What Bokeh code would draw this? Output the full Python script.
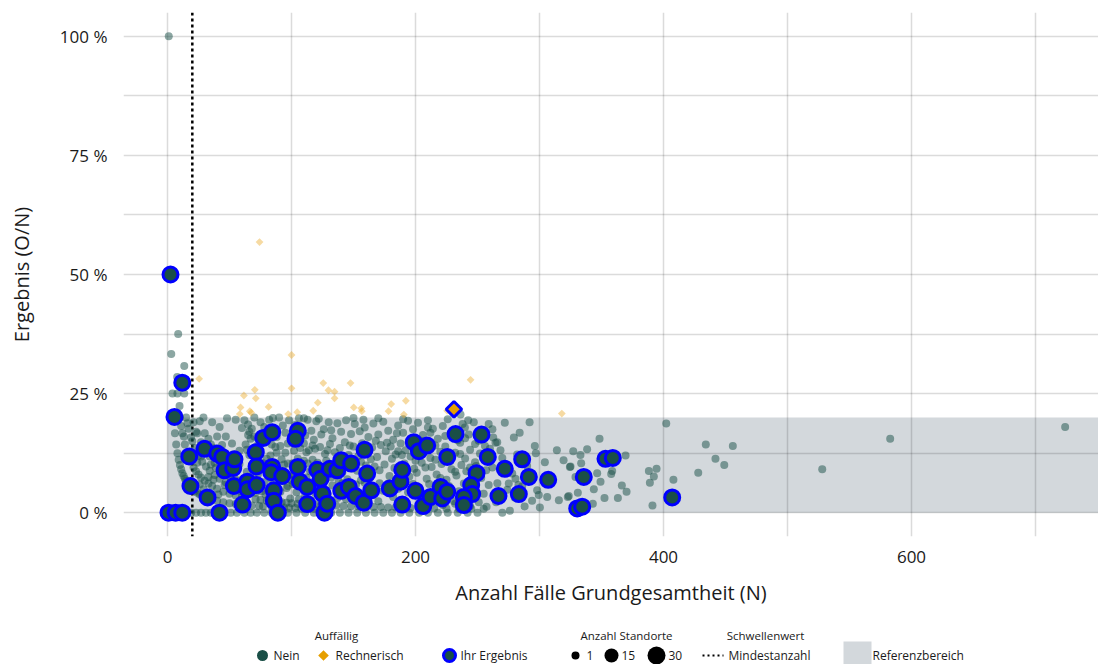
import math
from bokeh.plotting import figure
from bokeh.models import Range1d, FixedTicker, BoxAnnotation, Span
from bokeh.layouts import column
from bokeh.embed import file_html
from bokeh.resources import INLINE
from bokeh.core.properties import value

# ---------------- data (N, result in %) ----------------
nein_small_n = [(1, 100), (3, 33.3), (8.6, 37.5), (13.5, 30.8), (7.8, 28.5), (4, 25), (8, 25), (13.5, 25),
                (9.7, 22.4), (5, 20), (10, 20), (6, 16.7), (13.2, 16), (16.1, 18.75), (7, 14.3), (14, 14.3),
                (8, 12.5), (16, 12.5), (9, 11.1), (18, 11.1), (10, 10), (12, 8.3), (14, 7.1), (16, 6.25),
                (18, 5.6), (11, 9.1), (13, 7.7), (15, 6.7), (17, 5.9), (19, 5.3), (3, 0),
                (9, 0), (15, 0), (19, 0), (11, 18.2), (12, 16.7), (15, 20), (17, 17.6), (19, 15.8), (20, 15)]
nein_20_60 = [(23, 0), (27, 0), (31, 0), (35, 0), (40, 0), (45, 0), (51, 0), (56, 0),
              (21, 4.8), (22, 4.5), (24, 4.2), (26, 3.8), (28, 3.6), (30, 3.3), (33, 3.0),
              (36, 2.8), (40, 2.5), (45, 2.2), (50, 2.0), (55, 1.8), (60, 1.7), (21, 9.5), (23, 8.7), (25, 8),
              (27, 7.4), (30, 6.7), (33, 6.1), (36, 5.6), (40, 5), (45, 4.4), (50, 4), (55, 3.6), (60, 3.3),
              (22, 13.6), (25, 12), (28, 10.7), (31, 9.7), (34, 8.8), (38, 7.9), (42, 7.1), (47, 6.4),
              (52, 5.8), (57, 5.3), (21, 19), (24, 16.7), (27, 14.8), (30, 13.3), (34, 11.8), (38, 10.5),
              (43, 9.3), (48, 8.3), (54, 7.4), (59, 6.8), (26, 19.2), (30, 16.7), (35, 14.3), (40, 12.5),
              (45, 11.1), (50, 10), (56, 8.9), (23, 17), (36, 19), (42, 18), (47, 16), (52, 14.5), (58, 13),
              (55, 19.5), (60, 17.8), (33, 15.5), (29, 20), (48, 19.8), (40, 16), (44, 14.2), (38, 13.5),
              (57, 11.5), (53, 12.2)]
nein_60_120 = [(62, 19.4), (65, 18.5), (68, 17.6), (70, 20), (72, 14), (75, 19), (78, 18), (80, 16.3), (82, 19.5),
               (85, 17.6), (88, 15.9), (90, 20), (93, 18.3), (95, 16.8), (98, 19.4), (100, 15), (103, 18.4),
               (106, 19.8), (108, 16.7), (110, 14.5), (113, 19.5), (116, 17.2), (118, 15.3), (120, 19.2),
               (63, 14.3), (66, 12.1), (69, 10.1), (64, 8.6), (67, 7.5), (70, 6.3), (73, 5.5), (76, 4.5),
               (79, 3.8), (82, 3.0), (86, 2.3), (90, 1.1), (94, 1.1), (98, 1.0), (103, 1.0), (108, 0.9),
               (113, 0.9), (118, 0.85), (74, 12.2), (77, 10.4), (80, 11.3), (83, 12.0), (86, 10.5), (89, 9.0),
               (92, 11.2), (95, 12.6), (97, 10.3), (100, 8), (102, 13), (105, 11.4), (107, 7.5), (110, 10.9),
               (112, 12.7), (115, 8.7), (117, 11.1), (119, 13.4), (75, 2.7), (78, 6.4), (81, 5), (84, 6.9),
               (87, 3.4), (91, 4.4), (93, 6.6), (96, 5.2), (99, 3), (101, 6), (104, 4.3), (106, 2.8),
               (109, 5.8), (111, 3.6), (114, 6.1), (116, 2.6), (119, 4.2), (62, 3.2), (65, 4.6), (68, 1.5),
               (71, 2.8), (74, 1.4), (77, 1.3), (80, 2.5), (84, 1.2), (88, 2.3), (92, 2.2), (96, 2.1),
               (100, 2), (105, 1.9), (110, 1.8), (115, 1.7), (120, 1.7), (62, 0), (67, 0), (72, 0),
               (78, 0), (84, 0), (90, 0), (97, 0), (104, 0), (111, 0), (118, 0),
               (70, 16), (76, 15.5), (84, 14.3), (91, 14), (97, 14.5), (104, 15.8), (111, 16.2),
               (117, 14.1), (66, 17), (80, 9), (88, 12.6), (94, 8.3), (101, 10.4), (108, 9.6), (114, 13.1),
               (71, 4.2), (85, 8.2), (99, 6.9), (112, 7.4)]
nein_120_200 = [(122, 19.7), (126, 17.5), (130, 19), (133, 15.6), (137, 18.8), (140, 17), (144, 19.4), (148, 16.5),
                (151, 18.6), (155, 17.1), (158, 19.5), (162, 15.9), (166, 18.7), (170, 16.4), (174, 19.1),
                (178, 17.2), (182, 15.3), (186, 18.3), (190, 16.8), (194, 19.3), (198, 17.5), (123, 13.8),
                (127, 12.3), (131, 14.4), (135, 12.7), (139, 13.6), (143, 14.8), (146, 12.1), (150, 13.9),
                (154, 11.9), (157, 14.6), (161, 12.4), (165, 13.7), (169, 11.7), (172, 14.2), (176, 12.9),
                (180, 13.9), (184, 12.2), (188, 14.5), (192, 13.1), (196, 11.8), (121, 10.5), (125, 8.2),
                (128, 10.9), (132, 7.4), (136, 10.2), (141, 8.5), (145, 7), (149, 9.3), (153, 8.8),
                (156, 10.7), (160, 9.9), (163, 7.3), (167, 9.7), (171, 8.9), (175, 10.1), (179, 7.7),
                (183, 9.4), (187, 8.1), (191, 10.3), (195, 7.6), (199, 9.2), (122, 6.1), (126, 5.2),
                (129, 3.9), (133, 5.7), (137, 3.1), (141, 6.2), (144, 2.8), (148, 4.1), (152, 5.9),
                (155, 2.6), (159, 6.3), (163, 3.8), (167, 5.4), (170, 2.4), (174, 4.6), (178, 6.1),
                (182, 3.3), (186, 5), (190, 2.6), (194, 4.3), (198, 6), (124, 1.6), (130, 1.5), (136, 1.5),
                (142, 1.4), (148, 1.35), (154, 1.3), (160, 1.25), (166, 1.2), (172, 1.2), (178, 1.1),
                (184, 1.1), (190, 1.05), (196, 1), (125, 0), (132, 0), (139, 0), (146, 0),
                (153, 0), (160, 0), (167, 0), (174, 0), (181, 0), (188, 0), (195, 0)]
nein_200_260 = [(202, 18.9), (206, 16.3), (210, 19.4), (214, 17.6), (218, 15.5), (222, 18.2), (226, 19.6),
                (230, 17.1), (234, 15.2), (238, 18.6), (243, 16.4), (247, 19), (251, 15.1), (255, 17.3),
                (259, 18.6), (204, 12.1), (208, 13.7), (212, 11.5), (216, 14.1), (220, 12.8), (224, 13.9),
                (228, 10.8), (232, 12.6), (236, 14.7), (240, 11.4), (244, 13.2), (248, 10.6), (252, 12.4),
                (256, 14), (201, 8.4), (205, 10.5), (209, 7.1), (213, 9.6), (217, 8), (221, 10.2), (225, 6.9),
                (229, 9.1), (233, 7.8), (237, 10), (241, 8.7), (245, 6.6), (249, 9.8), (253, 7.3), (257, 8.9),
                (203, 5.3), (207, 3.7), (211, 6), (215, 2.8), (219, 4.9), (223, 3.2), (227, 5.6), (231, 2.4),
                (235, 4.5), (239, 6.1), (243, 3), (247, 5.1), (251, 2.2), (255, 4), (259, 5.8), (205, 1),
                (215, 0.95), (225, 0.9), (235, 0.85), (245, 0.8), (255, 0.8), (203, 0), (210, 0), (218, 0),
                (226, 0), (234, 0), (242, 0), (250, 0), (242.5, 19.4), (239.8, 17.9), (236.3, 20.6),
                (257.3, 1.25)]
nein_large_n = [(264.5, 14.7), (268.5, 13.1), (279.3, 15.8), (276.1, 0.4), (297, 12.5), (296.2, 14), (298.1, 4.7),
                (299.4, 3.7), (300.3, 1.1), (304.3, 10.6), (306.2, 3.3), (314, 13.1), (319.4, 11), (324.5, 9.6),
                (329, 7.5), (323.6, 3.5), (315.6, 2.6), (327.2, 12.9), (338.4, 13.3), (346.5, 8.3),
                (349.2, 6.5), (343.8, 4.9), (343, 1.9), (348.4, 15.5), (352.4, 3.1), (363.2, 3.1),
                (366.4, 5.7), (369.4, 12), (370.2, 4.4), (388.2, 8.75), (389, 6.3), (391.1, 1.5),
                (392.2, 7.6), (394.4, 9.2), (402.2, 18.7), (408, 6.9), (262, 9.5), (266, 6.2), (270, 11.5),
                (274, 4.8), (278, 8.2), (282, 12.2), (286, 5.5), (290, 9.8), (294, 2.5), (262, 17.5),
                (272, 18.9), (284, 16.8), (292, 19), (265, 2.2), (288, 1.3), (280, 3.2), (270, 0),
                (283, 5.8), (262.7, 15.8), (265.9, 14.8), (275.2, 6.1), (280.6, 7.1), (333, 12.1),
                (333.6, 10.4), (325, 9.7), (358.6, 8.75), (357.8, 8.1), (330.9, 4.2), (322.8, 3.3),
                (434.1, 14.3), (455.9, 14.0), (441.9, 11.3), (449.0, 10.0), (428, 8.4), (528, 9.1),
                (582.8, 15.5), (723.9, 18.0)]
nein_extra = [(24, 10.5), (27, 11.8), (31, 12.6), (35, 10.1), (39, 9.4), (44, 12.9), (49, 11.7), (53, 9.6),
              (58, 10.2), (26, 5.9), (29, 4.9), (33, 7.5), (37, 6.9), (41, 3.8), (46, 5.8), (51, 7.2), (56, 6.3),
              (59, 4.5), (64, 13.2), (67, 15.5), (71, 11.5), (73, 8.1), (79, 14.9), (83, 9.9), (87, 13.8),
              (90, 7.2), (94, 10.1), (97, 5.6), (102, 7.9), (104, 17.5), (107, 13.6), (113, 10.3), (116, 4.9),
              (118, 9.2), (124, 16.4), (129, 13.1), (134, 9.1), (138, 6.7), (142, 11.3), (147, 14.1),
              (151, 10.6), (156, 6.8), (159, 17.9), (164, 11.2), (168, 15.1), (171, 6.2), (177, 14.7),
              (181, 11.3), (185, 16.7), (189, 12.1), (193, 8.7), (197, 15.1), (200, 10.9), (204, 15.1),
              (208, 9.5), (212, 16.8), (216, 11.1), (220, 7.3), (224, 16.1), (228, 12.1), (232, 8.6),
              (236, 12.3), (240, 15.6), (244, 9.5), (248, 14.4), (252, 8.1), (256, 11.6), (260, 13.4),
              (212, 2.1), (222, 1.6), (232, 1.9), (244, 1.4), (150, 19.9), (170, 19.8), (210, 17.9),
              (190, 19.6), (110, 19.8), (132, 17.3), (186, 12.9), (85, 19.9), (65, 16.3)]

rech_n = [74.2, 25.5, 100, 100, 61.6, 70.4, 71.2, 58.9, 58.3, 66.4, 67.5, 81.5, 97.3, 104.6, 117.5, 121.2,
          125.6, 129.8, 134.7, 134.7, 147.6, 150.2, 156.2, 156.7, 178.2, 180.4, 190.6, 192.2, 225.5,
          244.4, 318]
rech_pct = [56.8, 28.1, 33.1, 26.1, 24.6, 25.8, 24.0, 22.1, 20.7, 21.3, 21.0, 22.2, 20.7, 21.1, 21.4, 23.1,
            27.2, 25.7, 25.4, 24.0, 27.2, 22.1, 21.9, 21.3, 21.3, 22.8, 20.6, 23.5, 21.4, 27.9, 20.8]

ihr_n = [2.4, 11.9, 5.6, 17.5, 18.5, 0.8, 6.5, 11.9, 32.3, 41.9, 29.8, 40.1, 44.1, 46.0, 53.0, 54.0, 53.5,
         60.5, 64.3, 64.5, 71.2, 71.8, 71.8, 77.2, 84.4, 84.4, 83.6, 85.7, 85.7, 89.0, 92.5, 105.1, 103.2,
         105.1, 106.7, 112.7, 112.7, 120.7, 123.4, 125.0, 126.6, 128.8, 130.9, 136.9, 140.1, 140.1, 148.1,
         146.2, 151.6, 158.3, 158.9, 161.0, 164.3, 179.3, 187.9, 189.3, 189.3, 198.6, 202.7, 200.0, 206.2,
         209.4, 212.1, 220.2, 221.5, 225.6, 232.3, 253.2, 258.3, 286.0, 272.0, 291.4, 307.0, 335.7, 353.2,
         359.1, 249.2, 244.9, 245.7, 239.0, 239.0, 225.6, 266.9, 283.3, 330.4, 334.4, 407.0]
ihr_pct = [50.0, 27.3, 20.1, 11.8, 5.6, 0, 0, 0, 3.2, 0, 13.4, 12.4, 11.7, 8.9, 9.4, 11.2, 5.6,
           1.7, 6.5, 4.9, 12.7, 9.7, 5.8, 15.7, 16.9, 9.6, 8.5, 4.7, 2.5, 0, 7.7, 17.2, 15.5,
           9.6, 6.5, 5.4, 1.8, 9.0, 7.1, 4.0, 0, 1.9, 9.2, 8.9, 11.0, 4.6, 10.3,
           5.4, 3.5, 2.1, 13.2, 8.2, 4.7, 5.1, 6.5, 9.0, 1.7, 14.8, 12.9, 4.6, 1.4,
           14.1, 3.3, 5.4, 3.0, 11.7, 16.5, 16.4, 11.7, 11.2, 9.2, 7.5, 6.9, 7.5, 11.3,
           11.5, 8.3, 5.8, 3.9, 3.3, 1.6, 4.4, 3.5, 3.9, 0.9, 1.25, 3.2]

ihr_rech_n = [231]
ihr_rech_pct = [21.7]

ref_lower, ref_upper = 0, 20
mindestanzahl = 20

y_ticks = [0, 25, 50, 75, 100]
y_labels = ["0 %", "25 %", "50 %", "75 %", "100 %"]
y_minor = [12.5, 37.5, 62.5, 87.5]
x_ticks = [0, 200, 400, 600]
x_minor = [100, 300, 500, 700]

nein_all = nein_small_n + nein_20_60 + nein_60_120 + nein_120_200 + nein_200_260 + nein_large_n + nein_extra
nein_n = [a for a, b in nein_all]
nein_pct = [b for a, b in nein_all]

# ---------------- styling ----------------
TEAL = "#1a4f47"
ORANGE = "#e8a317"
ORANGE_DARK = "#e69f00"
BLUE = "#0000ff"
GREY_REF = "#d3d8dc"
FONT = "Open Sans"
TXT = "#1a1a1a"

p = figure(width=1098, height=608, x_range=Range1d(-35.5, 750.8), y_range=Range1d(-5, 105),
           output_backend="svg", toolbar_location=None,
           min_border_left=123, min_border_right=0, min_border_top=12, min_border_bottom=68)
p.outline_line_color = None
p.background_fill_color = "white"

p.add_layout(BoxAnnotation(left=0, bottom=ref_lower, top=ref_upper, fill_color=GREY_REF, fill_alpha=1.0,
                           line_color=None, level="image"))

p.xaxis.ticker = FixedTicker(ticks=x_ticks, minor_ticks=x_minor)
p.yaxis.ticker = FixedTicker(ticks=y_ticks, minor_ticks=y_minor)
p.yaxis.major_label_overrides = {t: l for t, l in zip(y_ticks, y_labels)}
for ax in (p.xaxis, p.yaxis):
    ax.axis_line_color = None
    ax.major_tick_line_color = None
    ax.minor_tick_line_color = None
    ax.major_label_text_font = FONT
    ax.major_label_text_font_size = "17px"
    ax.major_label_text_color = TXT
    ax.axis_label_text_font = FONT
    ax.axis_label_text_font_size = "20px"
    ax.axis_label_text_font_style = "normal"
    ax.axis_label_text_color = TXT
p.xaxis.axis_label = "Anzahl Fälle Grundgesamtheit (N)"
p.yaxis.axis_label = "Ergebnis (O/N)"
p.xaxis.major_label_standoff = 8
p.xaxis.axis_label_standoff = 13
p.yaxis.major_label_standoff = 10
p.yaxis.axis_label_standoff = 22

for g in (p.xgrid, p.ygrid):
    g.grid_line_color = "black"
    g.grid_line_alpha = 0.14
    g.grid_line_width = 1.5
    g.minor_grid_line_color = "black"
    g.minor_grid_line_alpha = 0.14
    g.minor_grid_line_width = 1.5

p.add_layout(Span(location=mindestanzahl, dimension="height", line_color="black", line_width=2.5,
                  line_dash="3 3", level="underlay"))

p.scatter(nein_n, nein_pct, size=8, fill_color=TEAL, fill_alpha=0.5, line_color=None)
p.scatter(rech_n, rech_pct, marker="square", angle=math.pi / 4, size=5.5, fill_color=ORANGE,
          fill_alpha=0.4, line_color=None)
p.scatter(ihr_n, ihr_pct, size=15, fill_color=TEAL, line_color=BLUE, line_width=3)
p.scatter(ihr_rech_n, ihr_rech_pct, marker="square", angle=math.pi / 4, size=11, fill_color=ORANGE_DARK,
          line_color=BLUE, line_width=3)

# ---------------- legend strip (frame is aligned with the main plot frame: page x 123..1098) ----------------
lg = figure(width=1098, height=56, x_range=Range1d(123, 1098), y_range=Range1d(664, 608),
            output_backend="svg", toolbar_location=None, x_axis_type=None, y_axis_type=None,
            min_border=0, min_border_left=123, min_border_right=0, min_border_top=0, min_border_bottom=0)
lg.outline_line_color = None
lg.grid.visible = False

ty, iy = 635, 655
lg.text(x=[336, 626, 765], y=[ty] * 3, text=["Auffällig", "Anzahl Standorte", "Schwellenwert"],
        text_font=value(FONT), text_font_size="11.5px", text_align="center", text_baseline="middle",
        text_color=TXT)
lg.text(x=[273, 335, 460, 586, 621, 668, 728, 872],
        y=[iy] * 8,
        text=["Nein", "Rechnerisch", "Ihr Ergebnis", "1", "15", "30", "Mindestanzahl", "Referenzbereich"],
        text_font=value(FONT), text_font_size="12px", text_align="left", text_baseline="middle",
        text_color=TXT)
lg.scatter([262], [iy], size=11, fill_color=TEAL, line_color=None)
lg.scatter([323], [iy], marker="square", angle=math.pi / 4, size=7.5, fill_color=ORANGE_DARK, line_color=None)
lg.scatter([449], [iy], size=12, fill_color=TEAL, line_color=BLUE, line_width=3)
lg.scatter([575, 611, 656], [iy] * 3, size=[8, 14, 18], fill_color="black", line_color=None)
lg.line([702, 723], [iy, iy], line_color="black", line_width=2, line_dash="2 3")
lg.quad(left=[843], right=[871], top=[641], bottom=[664], fill_color=GREY_REF, line_color=None)

layout = column(p, lg, spacing=0)
open("out.html", "w").write(file_html(layout, INLINE))
